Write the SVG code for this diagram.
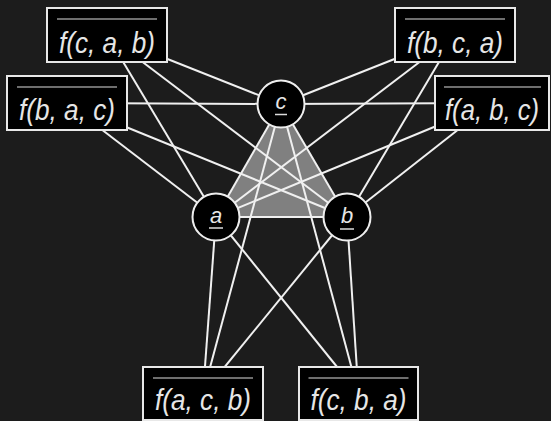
<svg xmlns="http://www.w3.org/2000/svg" width="551" height="421" viewBox="0 0 551 421">
<style>
.bg{fill:#1c1c1c}
.box{fill:#000;stroke:#e8e8e8;stroke-width:2}
.node{fill:#000;stroke:#eeeeee;stroke-width:2}
.edge{stroke:#f0f0f0;stroke-width:2;fill:none}
.ol{stroke:#dcdcdc;stroke-width:1.2}
.ul{stroke:#dcdcdc;stroke-width:1.5}
.lbl{font-family:"Liberation Sans","DejaVu Sans",sans-serif;font-style:italic;font-size:30px;fill:#e6e6e6;text-anchor:middle}
.nl{font-family:"Liberation Sans","DejaVu Sans",sans-serif;font-style:italic;font-size:22px;fill:#e6e6e6;text-anchor:middle}
</style>
<rect class="bg" x="0" y="0" width="551" height="421"/>
<polygon points="281,104 216,217 347,217" fill="#808080"/>
<g id="connectors">
<line class="edge" x1="281" y1="104" x2="216" y2="217"/>
<line class="edge" x1="281" y1="104" x2="347" y2="217"/>
<line class="edge" x1="216" y1="217" x2="347" y2="217"/>
<line class="edge" x1="107" y1="35" x2="281" y2="104"/>
<line class="edge" x1="107" y1="35" x2="216" y2="217"/>
<line class="edge" x1="107" y1="35" x2="347" y2="217"/>
<line class="edge" x1="67" y1="103" x2="281" y2="104"/>
<line class="edge" x1="67" y1="103" x2="216" y2="217"/>
<line class="edge" x1="67" y1="103" x2="347" y2="217"/>
<line class="edge" x1="455" y1="35" x2="281" y2="104"/>
<line class="edge" x1="455" y1="35" x2="216" y2="217"/>
<line class="edge" x1="455" y1="35" x2="347" y2="217"/>
<line class="edge" x1="492" y1="103" x2="281" y2="104"/>
<line class="edge" x1="492" y1="103" x2="216" y2="217"/>
<line class="edge" x1="492" y1="103" x2="347" y2="217"/>
<line class="edge" x1="203" y1="393.5" x2="281" y2="104"/>
<line class="edge" x1="203" y1="393.5" x2="216" y2="217"/>
<line class="edge" x1="203" y1="393.5" x2="347" y2="217"/>
<line class="edge" x1="358.5" y1="393.5" x2="281" y2="104"/>
<line class="edge" x1="358.5" y1="393.5" x2="216" y2="217"/>
<line class="edge" x1="358.5" y1="393.5" x2="347" y2="217"/>
</g>
<g id="node-c">
<circle class="node" cx="281" cy="104" r="23.5"/>
<text class="nl" x="281" y="109">c</text>
<line class="ul" x1="275" y1="114.5" x2="287" y2="114.5"/>
</g>
<g id="node-a">
<circle class="node" cx="216" cy="217" r="23.5"/>
<text class="nl" x="216" y="222.5">a</text>
<line class="ul" x1="209" y1="228" x2="223" y2="228"/>
</g>
<g id="node-b">
<circle class="node" cx="347" cy="217" r="23.5"/>
<text class="nl" x="347" y="223">b</text>
<line class="ul" x1="340" y1="229" x2="354" y2="229"/>
</g>
<g id="box-fcab">
<rect class="box" x="47" y="8" width="120" height="54"/>
<line class="ol" x1="57" y1="19" x2="157" y2="19"/>
<text class="lbl" x="107" y="52.5" textLength="96" lengthAdjust="spacingAndGlyphs">f(c, a, b)</text>
</g>
<g id="box-fbac">
<rect class="box" x="7" y="76" width="120" height="54"/>
<line class="ol" x1="17" y1="87" x2="117" y2="87"/>
<text class="lbl" x="67" y="119.5" textLength="96" lengthAdjust="spacingAndGlyphs">f(b, a, c)</text>
</g>
<g id="box-fbca">
<rect class="box" x="395" y="8" width="120" height="54"/>
<line class="ol" x1="405" y1="19" x2="505" y2="19"/>
<text class="lbl" x="455" y="52.5" textLength="96" lengthAdjust="spacingAndGlyphs">f(b, c, a)</text>
</g>
<g id="box-fabc">
<rect class="box" x="435" y="76" width="114" height="54"/>
<line class="ol" x1="444" y1="87" x2="541" y2="87"/>
<text class="lbl" x="492" y="119.5" textLength="94" lengthAdjust="spacingAndGlyphs">f(a, b, c)</text>
</g>
<g id="box-facb">
<rect class="box" x="143" y="367" width="120" height="53"/>
<line class="ol" x1="153" y1="378" x2="253" y2="378"/>
<text class="lbl" x="203" y="410" textLength="96" lengthAdjust="spacingAndGlyphs">f(a, c, b)</text>
</g>
<g id="box-fcba">
<rect class="box" x="299" y="367" width="119" height="53"/>
<line class="ol" x1="308.5" y1="378" x2="408.5" y2="378"/>
<text class="lbl" x="358.5" y="410" textLength="96" lengthAdjust="spacingAndGlyphs">f(c, b, a)</text>
</g>
</svg>
